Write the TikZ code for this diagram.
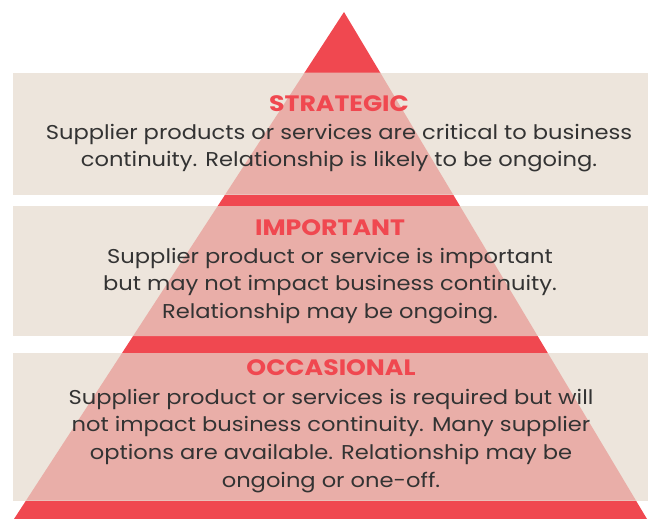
\documentclass[tikz,border=0pt]{standalone}
\usepackage{fontspec}
\setmainfont[FakeStretch=1.13]{Poppins}
\definecolor{trired}{HTML}{F04850}
\definecolor{tripink}{HTML}{E9AEA8}
\definecolor{boxbeige}{HTML}{EDE5DC}
\definecolor{bodytext}{HTML}{333333}
\tikzset{
  titletext/.style={anchor=base, inner sep=0pt, text=trired, font=\fontsize{22.3}{26}\selectfont\bfseries},
  bodyline/.style={anchor=base, inner sep=0pt, text=bodytext, font=\fontsize{20}{24}\selectfont}
}
\begin{document}
\begin{tikzpicture}[x=1pt,y=-1pt]
\useasboundingbox (0,0) rectangle (648,519);
\coordinate (apex) at (344,12);
\coordinate (bl) at (14,519);
\coordinate (br) at (647,519);
\fill[trired] (apex) -- (br) -- (bl) -- cycle;
\fill[boxbeige] (13,72.7) rectangle (648,194.7);
\fill[boxbeige] (13,206) rectangle (648,336);
\fill[boxbeige] (13,353) rectangle (648,500.7);
\begin{scope}
\clip (13,72.7) rectangle (648,194.7) (13,206) rectangle (648,336) (13,353) rectangle (648,500.7);
\fill[tripink] (apex) -- (br) -- (bl) -- cycle;
\end{scope}
% box 1
\node[titletext] (t1) at (339,111) {STRATEGIC};
\node[bodyline] (b11) at (339,139) {Supplier products or services are critical to business};
\node[bodyline] (b12) at (339,166.7) {continuity. Relationship is likely to be ongoing.};
% box 2
\node[titletext] (t2) at (330,235) {IMPORTANT};
\node[bodyline] (b21) at (330,263.3) {Supplier product or service is important};
\node[bodyline] (b22) at (330,290.8) {but may not impact business continuity.};
\node[bodyline] (b23) at (330,318.3) {Relationship may be ongoing.};
% box 3
\node[titletext] (t3) at (331,375.7) {OCCASIONAL};
\node[bodyline] (b31) at (331,404) {Supplier product or services is required but will};
\node[bodyline] (b32) at (331,431.7) {not impact business continuity. Many supplier};
\node[bodyline] (b33) at (331,459.3) {options are available. Relationship may be};
\node[bodyline] (b34) at (331,487.3) {ongoing or one-off.};
\end{tikzpicture}
\end{document}
